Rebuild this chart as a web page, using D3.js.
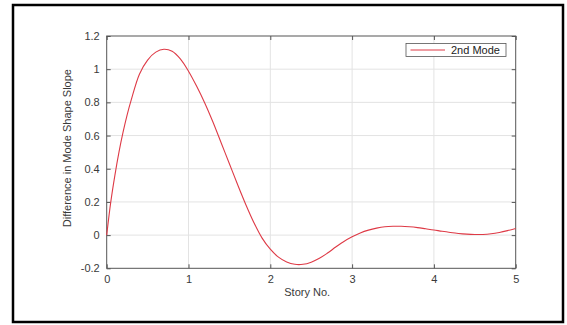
<!DOCTYPE html>
<html>
<head>
<meta charset="utf-8">
<script src="https://cdn.jsdelivr.net/npm/d3@7"></script>
<style>
  body { margin: 0; background: #fff; }
  svg { display: block; font-family: "Liberation Sans", Arial, sans-serif; }
</style>
</head>
<body>
<svg width="567" height="325"></svg>
<script>
// values
const storyNo = [0, 0.05, 0.1, 0.15, 0.2, 0.25, 0.3, 0.4, 0.5, 0.6, 0.7, 0.8, 0.9, 1.0,
  1.1, 1.2, 1.3, 1.4, 1.5, 1.6, 1.7, 1.8, 1.9, 2.0, 2.1, 2.2, 2.3, 2.4, 2.5, 2.6,
  2.7, 2.8, 2.9, 3.0, 3.1, 3.2, 3.3, 3.4, 3.5, 3.6, 3.7, 3.8, 3.9, 4.0, 4.1, 4.2,
  4.3, 4.4, 4.5, 4.6, 4.7, 4.8, 4.9, 5.0];
const slopeDiff = [0, 0.2, 0.36, 0.5, 0.62, 0.725, 0.815, 0.97, 1.055, 1.103, 1.12, 1.108, 1.062, 0.988,
  0.897, 0.795, 0.68, 0.555, 0.43, 0.305, 0.185, 0.075, -0.018, -0.085, -0.133, -0.162, -0.176, -0.176, -0.163, -0.14,
  -0.108, -0.072, -0.038, -0.01, 0.013, 0.03, 0.042, 0.05, 0.053, 0.053, 0.05, 0.045, 0.038, 0.031, 0.023, 0.016,
  0.01, 0.006, 0.004, 0.004, 0.008, 0.016, 0.027, 0.04];
const xTicks = [0, 1, 2, 3, 4, 5];
const yTicks = [-0.2, 0, 0.2, 0.4, 0.6, 0.8, 1, 1.2];
const seriesName = '2nd Mode';

const svg = d3.select('svg');

// outer frame
svg.append('rect')
  .attr('x', 13).attr('y', 5)
  .attr('width', 550).attr('height', 317)
  .attr('fill', 'none')
  .attr('stroke', '#000')
  .attr('stroke-width', 2.5);

const pL = 106.7, pR = 515.7, pT = 36, pB = 268.3;

const x = d3.scaleLinear().domain([0, 5]).range([pL, pR]);
const y = d3.scaleLinear().domain([-0.2, 1.2]).range([pB, pT]);

const axisColor = '#555';
const textColor = '#3a3a3a';

// grid
const g = svg.append('g');
g.selectAll('.vgrid').data(xTicks.slice(1, -1))
  .enter().append('line')
  .attr('x1', d => x(d)).attr('x2', d => x(d))
  .attr('y1', pT).attr('y2', pB)
  .attr('stroke', '#e3e3e3');
g.selectAll('.hgrid').data(yTicks.slice(1, -1))
  .enter().append('line')
  .attr('y1', d => y(d)).attr('y2', d => y(d))
  .attr('x1', pL).attr('x2', pR)
  .attr('stroke', '#e3e3e3');

// axes (ticks inward, box on)
const fmt = d => String(+d.toFixed(1));
svg.append('g')
  .attr('transform', `translate(0,${pB})`)
  .call(d3.axisBottom(x).tickValues(xTicks).tickSize(-4).tickPadding(7).tickFormat(fmt))
  .call(a => a.select('.domain').remove());
svg.append('g')
  .attr('transform', `translate(${pL},0)`)
  .call(d3.axisLeft(y).tickValues(yTicks).tickSize(-4).tickPadding(7).tickFormat(fmt))
  .call(a => a.select('.domain').remove());
svg.append('g')
  .attr('transform', `translate(0,${pT})`)
  .call(d3.axisTop(x).tickValues(xTicks).tickSize(-4).tickFormat(''))
  .call(a => a.select('.domain').remove());
svg.append('g')
  .attr('transform', `translate(${pR},0)`)
  .call(d3.axisRight(y).tickValues(yTicks).tickSize(-4).tickFormat(''))
  .call(a => a.select('.domain').remove());

svg.selectAll('.tick line').attr('stroke', axisColor);
svg.selectAll('.tick text')
  .attr('fill', textColor)
  .style('font-size', '11px')
  .style('font-family', '"Liberation Sans", Arial, sans-serif');

svg.append('rect')
  .attr('x', pL).attr('y', pT)
  .attr('width', pR - pL).attr('height', pB - pT)
  .attr('fill', 'none')
  .attr('stroke', axisColor)
  .attr('stroke-width', 1);

// curve
const data = storyNo.map((s, i) => [s, slopeDiff[i]]);
const line = d3.line()
  .x(d => x(d[0]))
  .y(d => y(d[1]))
  .curve(d3.curveCatmullRom);
svg.append('path')
  .datum(data)
  .attr('d', line)
  .attr('fill', 'none')
  .attr('stroke', '#de3a46')
  .attr('stroke-width', 1.1);

// labels
svg.append('text')
  .attr('x', (pL + pR) / 2 - 4)
  .attr('y', 296)
  .attr('text-anchor', 'middle')
  .attr('fill', textColor)
  .style('font-size', '11px')
  .text('Story No.');

svg.append('text')
  .attr('transform', `translate(71,${(pT + pB) / 2 - 4}) rotate(-90)`)
  .attr('text-anchor', 'middle')
  .attr('fill', textColor)
  .style('font-size', '11px')
  .text('Difference in Mode Shape Slope');

// legend
const lg = svg.append('g');
lg.append('rect')
  .attr('x', 406).attr('y', 43.5)
  .attr('width', 100).attr('height', 13)
  .attr('fill', '#fff')
  .attr('stroke', axisColor)
  .attr('stroke-width', 0.8);
lg.append('line')
  .attr('x1', 410.5).attr('x2', 445)
  .attr('y1', 50).attr('y2', 50)
  .attr('stroke', '#de3a46')
  .attr('stroke-width', 1);
lg.append('text')
  .attr('x', 451).attr('y', 54)
  .attr('fill', '#222')
  .style('font-size', '11px')
  .text(seriesName);
</script>
</body>
</html>
